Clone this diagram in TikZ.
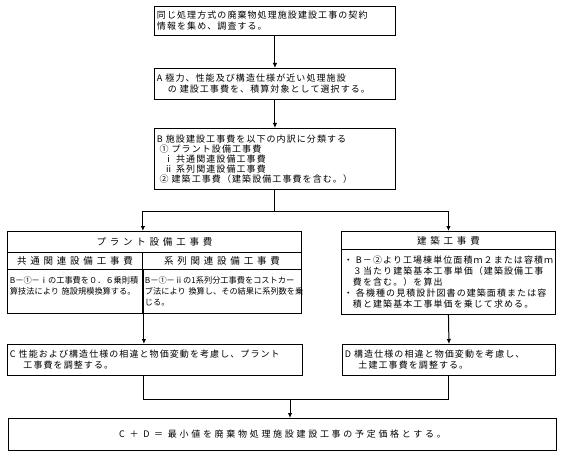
\documentclass[tikz,border=0pt]{standalone}
\usepackage{fontspec}
\newfontfamily\jpfont[LetterSpace=12]{Noto Sans CJK JP}
\usetikzlibrary{arrows.meta,positioning}

\begin{document}
\begin{tikzpicture}[x=1pt,y=-1pt,
  box/.style={draw,line width=0.9pt,anchor=north west,align=left,inner sep=2.5pt,
    font=\jpfont\fontsize{9}{11}\selectfont},
  headbox/.style={box,align=center,font=\jpfont\addfontfeature{LetterSpace=40}\fontsize{9.5}{11}\selectfont},
  smallbox/.style={box,font=\jpfont\addfontfeature{LetterSpace=0}\fontsize{8.2}{11}\selectfont},
  flow/.style={line width=1pt,-{Latex[length=5pt,width=4.5pt]}},
  link/.style={line width=1pt}]
\useasboundingbox (0,0) rectangle (561,454);

% collect data and choose
\node[box,minimum width=241pt,minimum height=29pt,text width=236pt] (info) at (154,6)
  {同じ処理方式の廃棄物処理施設建設工事の契約\\情報を集め、調査する。};
\node[box,minimum width=241pt,minimum height=31pt,text width=236pt] (stepA) at (154,68)
  {A 極力、性能及び構造仕様が近い処理施設\\\hspace*{1.2em}の 建設工事費を、積算対象として選択する。};
\node[box,minimum width=241pt,minimum height=61pt,text width=236pt,
  font=\jpfont\fontsize{9}{10}\selectfont] (stepB) at (154,128)
  {B 施設建設工事費を以下の内訳に分類する\\
   \hspace*{0.3em}① プラント設備工事費\\
   \hspace*{0.8em}ⅰ 共通関連設備工事費\\
   \hspace*{0.8em}ⅱ 系列関連設備工事費\\
   \hspace*{0.3em}② 建築工事費（建築設備工事費を含む。）};

% plant
\node[headbox,minimum width=294pt,minimum height=21pt] (planthead) at (7,231) {プラント設備工事費};
\node[headbox,minimum width=135pt,minimum height=17pt] (common) at (7,252) {共通関連設備工事費};
\node[headbox,minimum width=159pt,minimum height=17pt] (series) at (142,252) {系列関連設備工事費};
\node[smallbox,minimum width=135pt,minimum height=44pt,text width=131pt] (commonbody) at (7,269)
  {B－①－ⅰの工事費を０．６乗則積\\算技法により 施設規模換算する。\\\mbox{}};
\node[smallbox,minimum width=159pt,minimum height=44pt,text width=154pt] (seriesbody) at (142,269)
  {\makebox[154pt][l]{B－①－ⅱの1系列分工事費をコストカー}\\
   \makebox[154pt][l]{ブ法により 換算し、その結果に系列数を乗}\\
   じる。};

% building
\node[headbox,minimum width=214pt,minimum height=18pt] (bldghead) at (341,231) {建築工事費};
\node[box,minimum width=214pt,minimum height=65pt,text width=209pt] (bldgbody) at (341,249)
  {・ B－②より工場棟単位面積ｍ２または容積ｍ\\
   \hspace*{1em}３当たり建築基本工事単価（建築設備工事\\
   \hspace*{1em}費を含む。）を算出\\
   ・ 各機種の見積設計図書の建築面積または容\\
   \hspace*{1em}積と建築基本工事単価を乗じて求める。};

% adjust
\node[box,minimum width=295pt,minimum height=31pt,text width=290pt] (stepC) at (7,344)
  {C 性能および構造仕様の相違と物価変動を考慮し、プラント\\\hspace*{1.5em}工事費を調整する。};
\node[box,minimum width=213pt,minimum height=31pt,text width=208pt] (stepD) at (342,344)
  {D 構造仕様の相違と物価変動を考慮し、\\\hspace*{1.5em}土建工事費を調整する。};

% result
\node[headbox,minimum width=548pt,minimum height=32pt,
  font=\jpfont\addfontfeature{LetterSpace=30}\fontsize{9}{11}\selectfont] (result) at (8,418)
  {C ＋ D ＝ 最小値を廃棄物処理施設建設工事の予定価格とする。};

\draw[flow] (info) -- (stepA);
\draw[flow] (stepA) -- (stepB);
\draw[link] (stepB.south) -- ++(0,22) coordinate (split);
\draw[flow] (split) -| (common.east |- planthead.north);
\draw[flow] (split) -| (bldghead.north);
\draw[flow] (commonbody.south east) -- (commonbody.south east |- stepC.north);
\draw[flow] (bldgbody.south) -- (stepD.north);
\draw[link] (stepC.south -| commonbody.east) -- ++(0,24) coordinate (joinL) -| (stepD.south);
\coordinate (merge) at (290,399);
\draw[flow] (merge) -- (merge |- result.north);
\end{tikzpicture}
\end{document}
